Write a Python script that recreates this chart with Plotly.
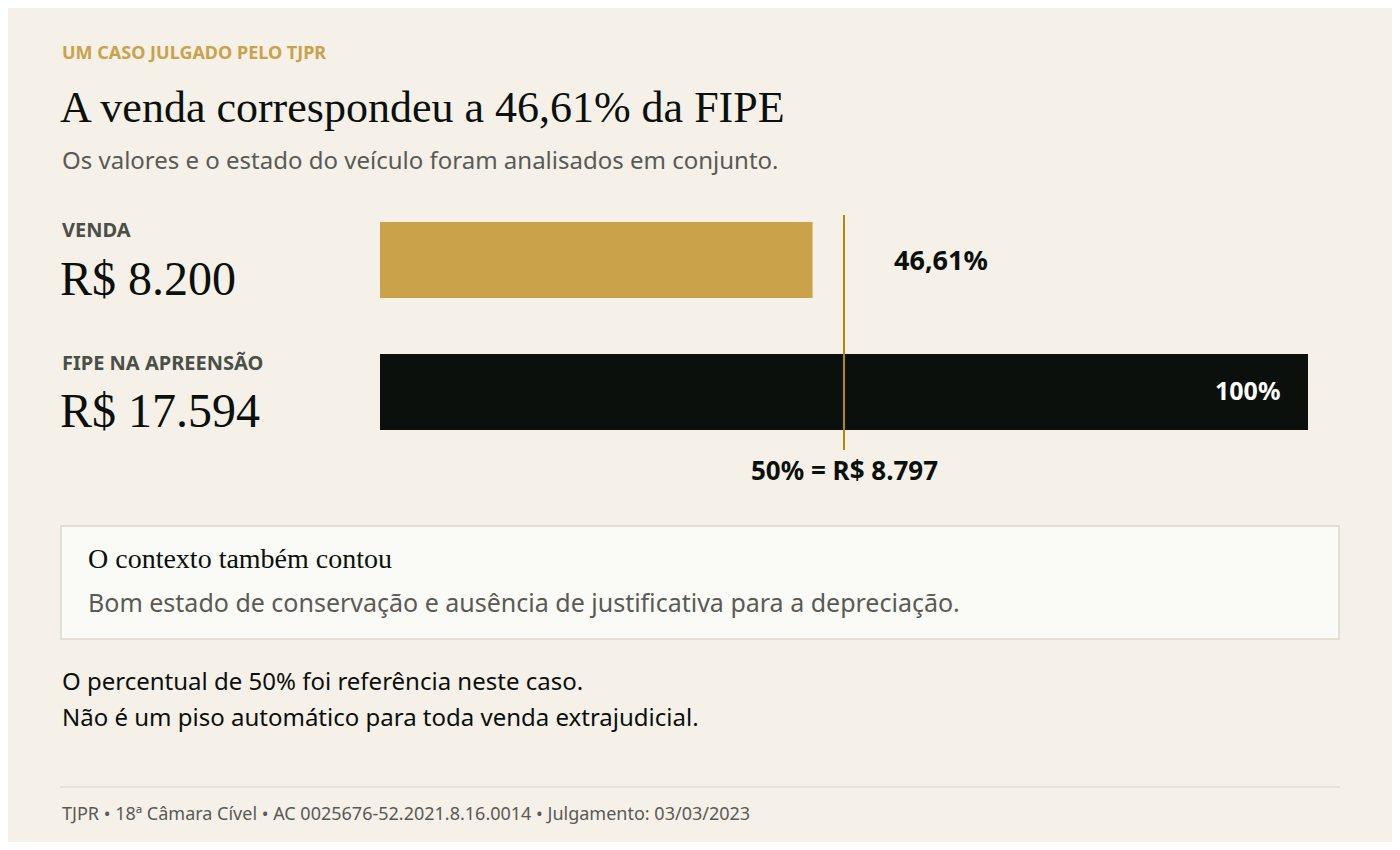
import plotly.graph_objects as go

# page adds an 8px body margin, so draw a slightly smaller figure shifted by 8px
OFF = 8
W, H = 1400 - 2 * OFF, 850 - 2 * OFF

categories = ["VENDA", "FIPE NA APREENSÃO"]
valores = ["R$ 8.200", "R$ 17.594"]
percentuais = [46.61, 100]
rotulos = ["46,61%", "100%"]
referencia = 50
referencia_label = "50% = R$ 8.797"

bg = "#f5f0e8"
gold = "#c9a24a"
dark = "#0b100c"
sans = "Noto Sans"
serif = "Liberation Serif"

def px(x):
    return (x - OFF) / W

def py(y):
    return 1 - (y - OFF) / H

bar_y = [260, 392]

fig = go.Figure()
fig.add_trace(go.Bar(
    x=percentuais, y=bar_y, orientation="h", width=76,
    marker=dict(color=[gold, dark], line=dict(width=0)),
    hoverinfo="skip",
))

fig.update_layout(
    width=W, height=H, paper_bgcolor=bg, plot_bgcolor=bg,
    margin=dict(l=0, r=0, t=0, b=0), showlegend=False,
    xaxis=dict(domain=[px(380), px(1308)], range=[0, 100], visible=False, fixedrange=True),
    yaxis=dict(domain=[py(450), py(215)], range=[450, 215], visible=False, fixedrange=True),
)

# reference line
fig.add_shape(type="line", xref="x", yref="y", x0=referencia, x1=referencia,
              y0=215, y1=450, line=dict(color="#b8860b", width=2))

ann = []
def text(x, y, t, size, color, font=sans, anchor="left", bold=False, ref="paper"):
    if bold:
        t = "<b>" + t + "</b>"
    ann.append(dict(x=px(x) if ref == "paper" else x, y=py(y), xref=ref, yref="paper",
                    text=t, showarrow=False, xanchor=anchor, yanchor="middle",
                    font=dict(size=size, color=color, family=font)))

text(60, 52, "UM CASO JULGADO PELO TJPR", 18, gold, bold=True)
text(58, 107, "A venda correspondeu a 46,61% da FIPE", 44, dark, font=serif)
text(60, 160, "Os valores e o estado do veículo foram analisados em conjunto.", 24, "#5a5a55")

label_y = [229, 362]
value_y = [278, 410]
for c, v, ly, vy in zip(categories, valores, label_y, value_y):
    text(60, ly, c, 20, "#4a4f47", bold=True)
    text(58, vy, v, 48, dark, font=serif)

text(892, 259, rotulos[0], 27, dark, bold=True)
text(1282, 390, rotulos[1], 25, "#ffffff", anchor="right", bold=True)
text(referencia, 470, referencia_label, 26, dark, anchor="center", bold=True, ref="x")

# context box
fig.add_shape(type="rect", xref="paper", yref="paper", x0=px(61), x1=px(1339),
              y0=py(639), y1=py(526), fillcolor="#fafaf6", line=dict(color="#ddd7c6", width=1.5),
              layer="below")
text(86, 558, "O contexto também contou", 28, dark, font=serif)
text(86, 602, "Bom estado de conservação e ausência de justificativa para a depreciação.", 25, "#5a5a55")

text(60, 680, "O percentual de 50% foi referência neste caso.", 24, dark)
text(60, 716, "Não é um piso automático para toda venda extrajudicial.", 24, dark)

fig.add_shape(type="line", xref="paper", yref="paper", x0=px(60), x1=px(1340),
              y0=py(787), y1=py(787), line=dict(color="#dcd6c9", width=1))
text(60, 813, "TJPR • 18ª Câmara Cível • AC 0025676-52.2021.8.16.0014 • Julgamento: 03/03/2023", 18, "#5a5a55")

fig.update_layout(annotations=ann)
fig.write_html("out.html")
